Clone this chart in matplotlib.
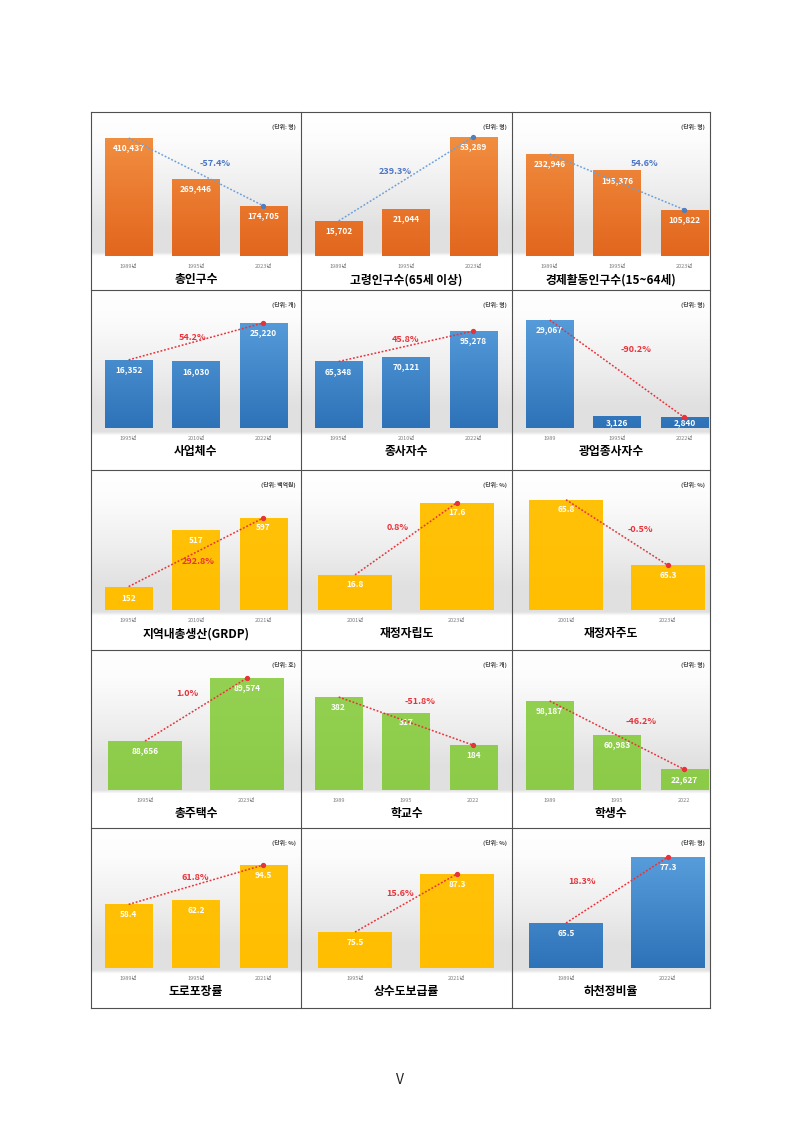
import numpy as np
import matplotlib.pyplot as plt
from matplotlib.lines import Line2D

plt.rcParams['font.family'] = ['Noto Sans CJK KR', 'DejaVu Sans']

# ---- data ----
pop_years = ['1989년', '1995년', '2023년']
pop_vals = [410437, 269446, 174705]
old_years = ['1989년', '1995년', '2023년']
old_vals = [15702, 21044, 53289]
work_years = ['1989년', '1995년', '2023년']
work_vals = [232946, 195376, 105822]
biz_years = ['1995년', '2010년', '2022년']
biz_vals = [16352, 16030, 25220]
emp_years = ['1995년', '2010년', '2022년']
emp_vals = [65348, 70121, 95278]
mine_years = ['1989', '1995년', '2022년']
mine_vals = [29067, 3126, 2840]
grdp_years = ['1995년', '2010년', '2021년']
grdp_vals = [152, 517, 597]
fin_years = ['2001년', '2023년']
fin_vals = [16.8, 17.6]
auto_years = ['2001년', '2023년']
auto_vals = [65.8, 65.3]
house_years = ['1995년', '2023년']
house_vals = [88656, 89574]
school_years = ['1989', '1995', '2022']
school_vals = [382, 317, 184]
stud_years = ['1989', '1995', '2022']
stud_vals = [98187, 60983, 22627]
road_years = ['1989년', '1995년', '2021년']
road_vals = [58.4, 62.2, 94.5]
water_years = ['1995년', '2021년']
water_vals = [75.5, 87.3]
river_years = ['1989년', '2022년']
river_vals = [65.5, 77.3]

titles = ['총인구수', '고령인구수(65세 이상)', '경제활동인구수(15~64세)',
          '사업체수', '종사자수', '광업종사자수',
          '지역내총생산(GRDP)', '재정자립도', '재정자주도',
          '총주택수', '학교수', '학생수',
          '도로포장률', '상수도보급률', '하천정비율']
units = ['(단위: 명)', '(단위: 명)', '(단위: 명)',
         '(단위: 개)', '(단위: 명)', '(단위: 명)',
         '(단위: 백억원)', '(단위: %)', '(단위: %)',
         '(단위: 호)', '(단위: 개)', '(단위: 명)',
         '(단위: %)', '(단위: %)', '(단위: 명)']
changes = ['-57.4%', '239.3%', '54.6%',
           '54.2%', '45.8%', '-90.2%',
           '292.8%', '0.8%', '-0.5%',
           '1.0%', '-51.8%', '-46.2%',
           '61.8%', '15.6%', '18.3%']

years = [pop_years, old_years, work_years, biz_years, emp_years, mine_years,
         grdp_years, fin_years, auto_years, house_years, school_years, stud_years,
         road_years, water_years, river_years]
values = [pop_vals, old_vals, work_vals, biz_vals, emp_vals, mine_vals,
          grdp_vals, fin_vals, auto_vals, house_vals, school_vals, stud_vals,
          road_vals, water_vals, river_vals]

# ---- styling / layout ----
W, H = 800, 1132
col_x = [91, 301, 512, 710]
row_y = [112, 290, 470, 650, 828, 1008]
baselines = [256, 428, 610, 790, 968]
AX_H = 130

ylims = [(0, 452000), (0, 58200), (0, 296900),
         (0, 31200), (0, 127700), (0, 35000),
         (0, 843), (16.41, 17.85), (64.96, 65.95),
         (87942, 89837), (0, 534), (0, 143400),
         (0, 119.3), (68.2, 94.6), (57.45, 80.7)]
bar_style = ['orange'] * 3 + ['blue'] * 3 + ['yellow'] * 3 + ['green'] * 3 + \
            ['yellow', 'yellow', 'blue']
grad = {'orange': ('#F39243', '#E2661E'), 'blue': ('#5EA3E0', '#2E73B8'),
        'yellow': ('#FFC20A', '#FFBE00'), 'green': ('#95D254', '#8CCB48')}
pct_pos = [(215, 163), (395, 172), (645, 164),
           (193, 338), (405, 340), (636, 349),
           (198, 562), (398, 527), (640, 530),
           (187, 693), (420, 702), (641, 721),
           (195, 878), (400, 893), (582, 882)]


def fx(px):
    return px / W


def fy(py):
    return 1 - py / H


fig = plt.figure(figsize=(8, 11.32), dpi=100)
fig.patch.set_facecolor('white')

# cell backgrounds
prof_y = [0.0, 0.15, 0.45, 0.65, 0.79, 0.81, 1.0]
prof_v = [1.0, 0.99, 0.93, 0.88, 0.88, 1.0, 1.0]
for r in range(5):
    for c in range(3):
        x0, x1 = col_x[c], col_x[c + 1]
        y0, y1 = row_y[r], row_y[r + 1]
        bax = fig.add_axes([fx(x0), fy(y1), fx(x1 - x0), (y1 - y0) / H])
        t = np.linspace(0, 1, 200)
        g = np.interp(t, prof_y, prof_v)
        img = np.repeat(g[:, None], 2, axis=1)
        bax.imshow(np.dstack([img, img, img]), aspect='auto', extent=[0, 1, 0, 1])
        bax.set_axis_off()

for i in range(15):
    r, c = divmod(i, 3)
    x0, x1 = col_x[c], col_x[c + 1]
    base = baselines[r]
    vals = values[i]
    n = len(vals)
    if n == 3:
        left, width = x0 + 4, 202
    else:
        left, width = x0 + 3, 204
    ax = fig.add_axes([fx(left), fy(base), width / W, AX_H / H])
    ax.set_axis_off()
    ax.patch.set_alpha(0)
    lo, hi = ylims[i]
    xs = np.arange(n)
    bw = 0.7 if n == 3 else 0.72
    top_c, bot_c = grad[bar_style[i]]
    bars = ax.bar(xs, [v - lo for v in vals], bottom=lo, width=bw,
                  color=bot_c, zorder=2)
    # vertical gradient inside each bar
    from matplotlib.colors import LinearSegmentedColormap
    cmap = LinearSegmentedColormap.from_list('g', [bot_c, top_c])
    for b in bars:
        bx, by = b.get_x(), b.get_y()
        im = ax.imshow(np.linspace(0, 1, 64)[:, None], cmap=cmap, aspect='auto',
                       origin='lower', extent=[bx, bx + b.get_width(), lo, hi],
                       zorder=2.5)
        im.set_clip_path(b)
    ax.set_xlim(-0.5, n - 0.5)
    ax.set_ylim(lo, hi)

    # value labels
    for k, v in enumerate(vals):
        txt = f'{v:,}' if isinstance(v, int) else f'{v:.1f}'
        hpx = (v - lo) / (hi - lo) * AX_H
        if hpx < 24:
            ax.text(k, (lo + v) / 2, txt, ha='center', va='center', color='white',
                    fontsize=6, fontweight='bold', zorder=4)
        else:
            ax.annotate(txt, (k, v), xytext=(0, -4), textcoords='offset points',
                        ha='center', va='top', color='white', fontsize=6,
                        fontweight='bold', zorder=4)

    # trend line
    lc = '#6FA0D8' if r == 0 else '#E8323A'
    ax.plot([0, n - 1], [vals[0], vals[-1]], ls=(0, (1.2, 1.2)), lw=1.1,
            color=lc, zorder=5, clip_on=False)
    ax.plot([n - 1], [vals[-1]], 'o', ms=2.8, color=lc if r else '#4F7FC0',
            zorder=6, clip_on=False)

    # x tick labels
    for k, lab in enumerate(years[i]):
        fig.text(fx(left + width * (k + 0.5) / n), fy(base + 10), lab,
                 ha='center', va='center', fontsize=4, color='#7F7F7F')

    # percent change label
    pc = '#4A74C4' if r == 0 else '#E8323A'
    px, py = pct_pos[i]
    fig.text(fx(px), fy(py), changes[i], ha='center', va='center',
             fontsize=6.5, fontweight='bold', color=pc, zorder=10)

    # unit label
    fig.text(fx(x1 - 5), fy(row_y[r] + 15), units[i], ha='right', va='center',
             fontsize=4.2, fontweight='bold', color='#404040')

    # panel title
    fig.text(fx((x0 + x1) / 2), fy(base + 24), titles[i], ha='center', va='center',
             fontsize=8.5, fontweight='bold', color='black')

# table borders
for xv in col_x:
    fig.add_artist(Line2D([fx(xv), fx(xv)], [fy(row_y[0]), fy(row_y[-1])],
                          color='#505050', lw=0.8))
for yv in row_y:
    fig.add_artist(Line2D([fx(col_x[0]), fx(col_x[-1])], [fy(yv), fy(yv)],
                          color='#505050', lw=0.8))

fig.text(fx(400), fy(1080), 'V', ha='center', va='center', fontsize=10, color='#222222')

fig.savefig('out.png', dpi=100)
